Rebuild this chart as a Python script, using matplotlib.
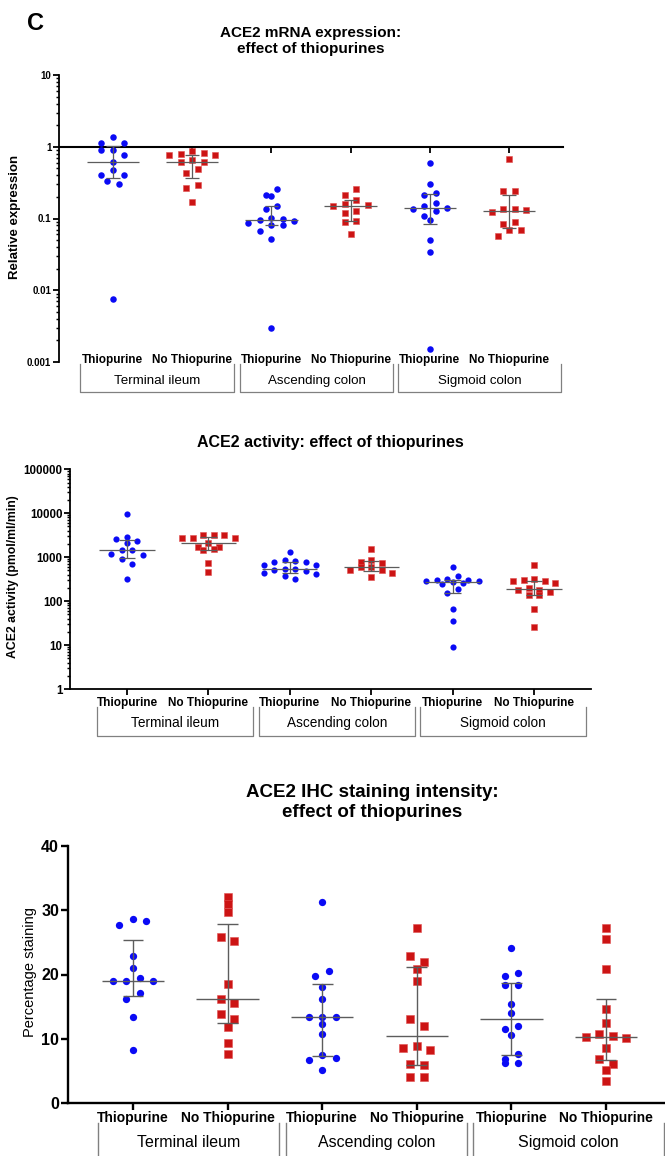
import numpy as np
import matplotlib
matplotlib.use("Agg")
import matplotlib.pyplot as plt
from matplotlib import transforms as mtrans
from matplotlib.ticker import FixedLocator, FixedFormatter, NullFormatter

plt.rcParams['font.family'] = ['Liberation Sans', 'DejaVu Sans']

# ---------------- data ----------------
group_labels = ["Thiopurine", "No Thiopurine"] * 3
site_labels = ["Terminal ileum", "Ascending colon", "Sigmoid colon"]

# ACE2 mRNA relative expression
mrna_ti_thio = [1.35, 1.11, 1.11, 0.91, 0.91, 0.77, 0.62, 0.47, 0.40, 0.40, 0.33, 0.30, 0.0075]
mrna_ti_no = [0.87, 0.82, 0.78, 0.77, 0.76, 0.66, 0.61, 0.61, 0.49, 0.43, 0.295, 0.27, 0.17]
mrna_ac_thio = [0.254, 0.216, 0.203, 0.147, 0.137, 0.102, 0.099, 0.094, 0.092, 0.086,
                0.080, 0.080, 0.066, 0.051, 0.003]
mrna_ac_no = [0.256, 0.216, 0.18, 0.157, 0.152, 0.148, 0.129, 0.119, 0.092, 0.088, 0.061]
mrna_sc_thio = [0.59, 0.298, 0.225, 0.216, 0.163, 0.147, 0.139, 0.137, 0.129, 0.109,
                0.096, 0.050, 0.034, 0.0015]
mrna_sc_no = [0.665, 0.24, 0.238, 0.135, 0.135, 0.132, 0.124, 0.089, 0.084, 0.069, 0.069, 0.057]

# ACE2 activity (pmol/ml/min)
act_ti_thio = [9800, 2880, 2570, 2380, 2100, 1460, 1460, 1190, 1120, 910, 715, 316]
act_ti_no = [3160, 3160, 3160, 2700, 2700, 2700, 2080, 1740, 1740, 1520, 1420, 740, 465]
act_ac_thio = [1340, 870, 840, 770, 760, 650, 650, 540, 533, 500, 490, 433, 417, 376, 321]
act_ac_no = [1540, 870, 790, 730, 590, 590, 510, 510, 435, 345]
act_sc_thio = [610, 376, 326, 300, 295, 290, 285, 275, 260, 250, 187, 157, 67, 36, 8.8]
act_sc_no = [660, 326, 305, 281, 280, 265, 200, 180, 180, 160, 140, 138, 67, 26]

# ACE2 IHC percentage staining
ihc_ti_thio = [28.6, 28.4, 27.7, 22.9, 21.0, 19.4, 19.0, 19.0, 19.0, 17.1, 16.2, 13.4, 8.2]
ihc_ti_no = [32.1, 31.0, 29.8, 25.8, 25.2, 18.5, 16.2, 15.6, 13.8, 13.0, 11.8, 9.3, 7.6]
ihc_ac_thio = [31.3, 20.6, 19.8, 18.1, 16.2, 13.4, 13.4, 13.4, 12.3, 10.7, 7.4, 6.95, 6.7, 5.1]
ihc_ac_no = [27.2, 22.9, 21.9, 20.9, 19.0, 13.0, 12.0, 8.9, 8.6, 8.2, 6.0, 5.9, 4.0, 4.0]
ihc_sc_thio = [24.1, 20.3, 19.8, 18.4, 18.4, 15.4, 14.0, 12.0, 11.5, 10.6, 7.6, 6.8, 6.3, 6.3]
ihc_sc_no = [27.3, 25.6, 20.8, 14.6, 12.5, 10.8, 10.4, 10.2, 10.1, 8.5, 6.8, 6.1, 5.1, 3.5]

mrna_ticks = [0.001, 0.01, 0.1, 1, 10]
mrna_ticklabels = ["0.001", "0.01", "0.1", "1", "10"]
act_ticks = [1, 10, 100, 1000, 10000, 100000]
act_ticklabels = ["1", "10", "100", "1000", "10000", "100000"]
ihc_ticks = [0, 10, 20, 30, 40]
ihc_ticklabels = ["0", "10", "20", "30", "40"]

# ---------------- style ----------------
W, H = 665, 1156
BLUE = '#0A0AF5'
RED = '#CC1414'
SUMCOL = '#5c5c5c'
BRCOL = '#808080'

fig = plt.figure(figsize=(W / 100, H / 100), dpi=100)


def px_axes(left, top, right, bottom):
    return fig.add_axes([left / W, 1 - bottom / H, (right - left) / W, (bottom - top) / H])


def swarm_x(ax, center, vals, step_px, dv_px):
    vals = np.asarray(vals, float)
    order = np.argsort(-vals, kind='stable')
    ypix = ax.transData.transform(np.column_stack([np.full(len(vals), center), vals]))[:, 1]
    px_per_unit = ax.transData.transform((1, vals[0]))[0] - ax.transData.transform((0, vals[0]))[0]
    xs = np.full(len(vals), float(center))
    rows, cur, start = [], [], None
    for i in order:
        if start is None or abs(start - ypix[i]) >= dv_px:
            if cur:
                rows.append(cur)
            cur, start = [i], ypix[i]
        else:
            cur.append(i)
    if cur:
        rows.append(cur)
    for r in rows:
        n = len(r)
        slots = [(k - (n - 1) / 2) for k in range(n)]
        # fill slots centre-out, alternating sides
        slots.sort(key=lambda v: (abs(v), -v if len(rows) % 2 else v))
        for sl, i in zip(slots, r):
            xs[i] = center + sl * step_px / px_per_unit
    return xs


def summary(ax, x, vals, half_med, half_cap, lw):
    med = np.median(vals)
    q1, q3 = np.percentile(vals, [25, 75], method='weibull')
    kw = dict(color=SUMCOL, lw=lw, zorder=5, solid_capstyle='butt')
    ax.plot([x - half_med, x + half_med], [med, med], **kw)
    ax.plot([x, x], [q1, q3], **kw)
    ax.plot([x - half_cap, x + half_cap], [q1, q1], **kw)
    ax.plot([x - half_cap, x + half_cap], [q3, q3], **kw)


def panel(ax, series, msize_px, step_px, half_med, half_cap, sum_lw):
    s = (msize_px * 0.72) ** 2
    for i, vals in enumerate(series):
        xs = swarm_x(ax, i, vals, step_px, msize_px * 0.95)
        if i % 2 == 0:
            ax.scatter(xs, vals, s=s, marker='o', color=BLUE, linewidths=0, zorder=3)
        else:
            ax.scatter(xs, vals, s=s * 0.95, marker='s', color=RED, edgecolors='#E05050',
                       linewidths=0.4, zorder=3)
        summary(ax, i, vals, half_med, half_cap, sum_lw)


def cat_labels(ax, y, fs, br_top, br_bot, br_text, br_fs, pads, br_lw=0.9):
    tr = mtrans.blended_transform_factory(ax.transData, ax.transAxes)
    for i, lab in enumerate(group_labels):
        ax.text(i, y, lab, transform=tr, ha='center', va='center', fontsize=fs,
                fontweight='bold', clip_on=False)
    for j, site in enumerate(site_labels):
        x0 = 2 * j + pads[j][0]
        x1 = 2 * j + 1 + pads[j][1]
        ax.plot([x0, x0, x1, x1], [br_top, br_bot, br_bot, br_top], transform=tr,
                color=BRCOL, lw=br_lw, clip_on=False)
        ax.text((x0 + x1) / 2, br_text, site, transform=tr, ha='center', va='center',
                fontsize=br_fs, clip_on=False)


def style_axes(ax, lw, ylabfs):
    for sp in ['top', 'right']:
        ax.spines[sp].set_visible(False)
    for sp in ['left', 'bottom']:
        ax.spines[sp].set_linewidth(lw)
    ax.set_xticks(range(6))
    ax.set_xticklabels([''] * 6)
    ax.tick_params(axis='x', direction='out', length=4, width=lw)
    ax.tick_params(axis='y', which='major', direction='out', length=4, width=lw,
                   labelsize=ylabfs, pad=1.5)
    ax.tick_params(axis='y', which='minor', direction='out', length=2, width=lw * 0.8)
    for t in ax.get_yticklabels():
        t.set_fontweight('bold')


def log_minor(lo_exp, hi_exp):
    return [m * 10.0 ** e for e in range(lo_exp, hi_exp) for m in range(2, 10)]


# ---------------- panel 1: mRNA ----------------
ax1 = px_axes(59, 75, 563, 362)
ax1.set_yscale('log')
ax1.set_ylim(0.001, 10)
ax1.set_xlim(-0.68, 5.68)
ax1.yaxis.set_major_locator(FixedLocator(mrna_ticks))
ax1.yaxis.set_major_formatter(FixedFormatter(mrna_ticklabels))
ax1.yaxis.set_minor_locator(FixedLocator(log_minor(-3, 1)))
ax1.yaxis.set_minor_formatter(NullFormatter())
ax1.spines['bottom'].set_position(('data', 1.0))
style_axes(ax1, 1.3, 7.0)
ax1.spines['bottom'].set_linewidth(1.5)
panel(ax1, [mrna_ti_thio, mrna_ti_no, mrna_ac_thio, mrna_ac_no, mrna_sc_thio, mrna_sc_no],
      6.5, 11.5, 0.33, 0.085, 0.9)
cat_labels(ax1, 0.006, 8.5, -0.008, -0.106, -0.066, 9.6,
           [(-0.42, 0.53), (-0.40, 0.54), (-0.40, 0.66)])

# ---------------- panel 2: activity ----------------
ax2 = px_axes(70, 469.3, 591, 689)
ax2.set_yscale('log')
ax2.set_ylim(1, 100000)
ax2.set_xlim(-0.70, 5.70)
ax2.yaxis.set_major_locator(FixedLocator(act_ticks))
ax2.yaxis.set_major_formatter(FixedFormatter(act_ticklabels))
ax2.yaxis.set_minor_locator(FixedLocator(log_minor(0, 5)))
ax2.yaxis.set_minor_formatter(NullFormatter())
style_axes(ax2, 1.3, 8.3)
panel(ax2, [act_ti_thio, act_ti_no, act_ac_thio, act_ac_no, act_sc_thio, act_sc_no],
      6.2, 10.5, 0.34, 0.1, 0.9)
cat_labels(ax2, -0.065, 8.5, -0.083, -0.2125, -0.156, 9.8,
           [(-0.37, 0.55), (-0.38, 0.54), (-0.40, 0.64)])

# ---------------- panel 3: IHC ----------------
ax3 = px_axes(68, 846, 671, 1103)
ax3.set_ylim(0, 40)
ax3.set_xlim(-0.687, 5.687)
ax3.yaxis.set_major_locator(FixedLocator(ihc_ticks))
ax3.yaxis.set_major_formatter(FixedFormatter(ihc_ticklabels))
style_axes(ax3, 1.7, 11.5)
ax3.tick_params(axis='y', which='major', length=5)
ax3.tick_params(axis='x', length=5)
panel(ax3, [ihc_ti_thio, ihc_ti_no, ihc_ac_thio, ihc_ac_no, ihc_sc_thio, ihc_sc_no],
      7.3, 13.5, 0.33, 0.11, 1.0)
cat_labels(ax3, -0.0595, 10, -0.079, -0.30, -0.153, 11.5,
           [(-0.37, 0.54), (-0.38, 0.53), (-0.41, 0.61)], br_lw=1.0)

# ---------------- titles & labels ----------------
def ftext(x, y, s, **kw):
    fig.text(x / W, 1 - y / H, s, **kw)


ftext(27, 23.5, "C", fontsize=17, fontweight='bold', ha='left', va='center')
ftext(311, 41, "ACE2 mRNA expression:\neffect of thiopurines", fontsize=11,
      fontweight='bold', ha='center', va='center', linespacing=1.25)
ftext(330, 443, "ACE2 activity: effect of thiopurines", fontsize=11.5,
      fontweight='bold', ha='center', va='center')
ftext(372, 802.5, "ACE2 IHC staining intensity:\neffect of thiopurines", fontsize=13.5,
      fontweight='bold', ha='center', va='center', linespacing=1.25)
ftext(15, 217, "Relative expression", fontsize=9.5, fontweight='bold', rotation=90,
      ha='center', va='center')
ftext(13, 577, "ACE2 activity (pmol/ml/min)", fontsize=8.8, fontweight='bold',
      rotation=90, ha='center', va='center')
ftext(30, 972, "Percentage staining", fontsize=10.5, rotation=90, ha='center', va='center')

fig.savefig("out.png", dpi=100)
